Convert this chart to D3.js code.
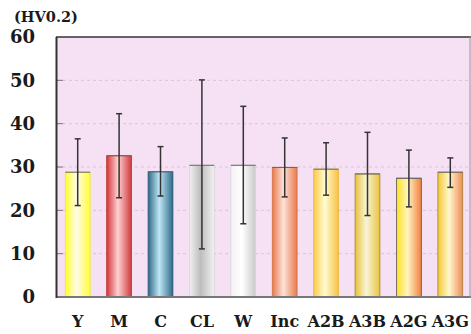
<!DOCTYPE html>
<html><head><meta charset="utf-8">
<script src="https://cdn.jsdelivr.net/npm/d3@7"></script>
<style>body{margin:0;background:#fff}svg{display:block}</style>
</head><body>
<script>
const categories = ["Y","M","C","CL","W","Inc","A2B","A3B","A2G","A3G"];
const means = [28.8,32.6,28.9,30.4,30.4,29.9,29.5,28.4,27.4,28.8];
const errHigh = [36.5,42.3,34.7,50.1,44.0,36.7,35.6,38.0,33.9,32.1];
const errLow = [21.1,22.9,23.3,11.1,16.9,23.1,23.5,18.8,20.8,25.3];
const yTicks = [0,10,20,30,40,50,60];
const unitLabel = "(HV0.2)";
// gradient stops per bar: [left, center, right]
const barColors = [
  ["#ffff2a","#fffbe8","#ffff3a"],
  ["#d2363a","#ffd0d2","#cf3a3c"],
  ["#2f6886","#bfe6f6","#2f6a8a"],
  ["#f0f0f0","#bdbdbd","#f2f2f2"],
  ["#f2f2f2","#ffffff","#c8c8c8"],
  ["#e87a4c","#fde2da","#e87a4a"],
  ["#fbc948","#fffcd2","#f7c142"],
  ["#e7c23a","#f9f4d6","#e8c440"],
  ["#ffe020","#fff4c0","#f08040"],
  ["#f2c838","#fff8cc","#f08a58"]
];
const borderCols = ["#e8e830","#c03030","#2a5a78","#d8d8d8","#d8d8d8","#d87040","#e8b840","#a08030","#555","#a08030"];

(function(){
const W = 471, H = 334;
const svg = d3.select("body").append("svg").attr("width", W).attr("height", H)
  .style("font-family", "'DejaVu Serif', serif");
const pl = 57, pr = 471, pt = 37, pb = 297;
const x = d3.scaleBand().domain(categories).range([pl, pr]).paddingInner(0.4).paddingOuter(0.2);
const y = d3.scaleLinear().domain([0, 60]).range([pb, pt]);

const defs = svg.append("defs");
barColors.forEach((c, i) => {
  const g = defs.append("linearGradient").attr("id", "g" + i).attr("x1", "0").attr("x2", "1").attr("y1", "0").attr("y2", "0");
  g.append("stop").attr("offset", "0%").attr("stop-color", c[0]);
  g.append("stop").attr("offset", "45%").attr("stop-color", c[1]);
  g.append("stop").attr("offset", "100%").attr("stop-color", c[2]);
});

svg.append("rect").attr("x", pl).attr("y", pt).attr("width", pr - pl).attr("height", pb - pt).attr("fill", "#f6e1f4");

// gridlines
svg.append("g").selectAll("line").data(yTicks.filter(t => t > 0 && t < 60)).join("line")
  .attr("x1", pl).attr("x2", pr).attr("y1", d => y(d)).attr("y2", d => y(d))
  .attr("stroke", "#d8c4d6").attr("stroke-dasharray", "3,3").attr("stroke-width", 1);

// bars
svg.append("g").selectAll("rect").data(categories).join("rect")
  .attr("x", d => x(d)).attr("width", x.bandwidth())
  .attr("y", (d, i) => y(means[i])).attr("height", (d, i) => y(0) - y(means[i]))
  .attr("fill", (d, i) => `url(#g${i})`)
  .attr("stroke", (d, i) => borderCols[i]).attr("stroke-width", 0.8);

// bar top lines
svg.append("g").selectAll("line").data(categories).join("line")
  .attr("x1", d => x(d)).attr("x2", d => x(d) + x.bandwidth())
  .attr("y1", (d, i) => y(means[i])).attr("y2", (d, i) => y(means[i]))
  .attr("stroke", "#666").attr("stroke-width", 1);

// error bars
const eb = svg.append("g").attr("stroke", "#333").attr("stroke-width", 1.5);
categories.forEach((c, i) => {
  const cx = x(c) + x.bandwidth() / 2;
  eb.append("line").attr("x1", cx).attr("x2", cx).attr("y1", y(errHigh[i])).attr("y2", y(errLow[i]));
  [errHigh[i], errLow[i]].forEach(v => eb.append("line").attr("x1", cx - 3).attr("x2", cx + 3).attr("y1", y(v)).attr("y2", y(v)));
});

// y axis ticks inward
svg.append("g").selectAll("line").data(yTicks.filter(t => t > 0 && t < 60)).join("line")
  .attr("x1", pl).attr("x2", pl + 6).attr("y1", d => y(d)).attr("y2", d => y(d))
  .attr("stroke", "#777").attr("stroke-width", 1);

// frame
svg.append("line").attr("x1", pl - 1).attr("x2", pr).attr("y1", pt).attr("y2", pt).attr("stroke", "#333").attr("stroke-width", 1.5);
svg.append("line").attr("x1", pl - 1).attr("x2", pr).attr("y1", pb).attr("y2", pb).attr("stroke", "#777").attr("stroke-width", 2);
svg.append("line").attr("x1", pl - 0.5).attr("x2", pl - 0.5).attr("y1", pt).attr("y2", pb + 1).attr("stroke", "#333").attr("stroke-width", 2);
svg.append("line").attr("x1", pr - 1).attr("x2", pr - 1).attr("y1", pt).attr("y2", pb).attr("stroke", "#999").attr("stroke-width", 1);

// y labels
svg.append("g").selectAll("text").data(yTicks).join("text")
  .attr("x", 35).attr("y", d => y(d)).attr("dy", "0.36em").attr("text-anchor", "end")
  .attr("font-weight", "bold").attr("font-size", 18).attr("fill", "#1a1a1a").text(d => d);

// x labels
svg.append("g").selectAll("text").data(categories).join("text")
  .attr("x", d => x(d) + x.bandwidth() / 2).attr("y", 327).attr("text-anchor", "middle")
  .attr("font-weight", "bold").attr("font-size", 16).attr("fill", "#1a1a1a").text(d => d);

svg.append("text").attr("x", 14).attr("y", 22).attr("font-weight", "bold").attr("font-size", 14.5).attr("fill", "#1a1a1a").text(unitLabel);
})();
</script>
</body></html>
